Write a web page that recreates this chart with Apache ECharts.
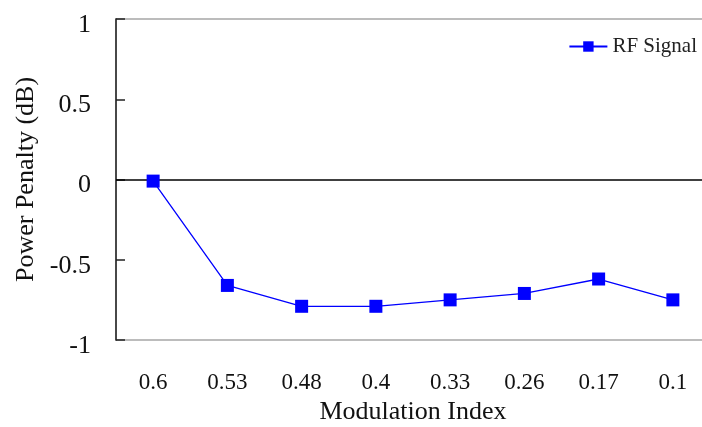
<!DOCTYPE html>
<html>
<head>
<meta charset="utf-8">
<script src="https://cdn.jsdelivr.net/npm/echarts@6/dist/echarts.min.js"></script>
<style>
  html, body { margin: 0; padding: 0; background: #fff; overflow: hidden; }
  #chart { width: 702px; height: 427px; }
</style>
</head>
<body>
<div id="chart"></div>
<script>
// Modulation index values along the x axis
const categories = ['0.6', '0.53', '0.48', '0.4', '0.33', '0.26', '0.17', '0.1'];
// Measured power penalty of the RF signal (dB)
const rfSignal = [-0.01, -0.66, -0.79, -0.79, -0.75, -0.71, -0.62, -0.75];
const seriesName = 'RF Signal';
const xTitle = 'Modulation Index';
const yTitle = 'Power Penalty (dB)';

const font = '"Liberation Serif", "DejaVu Serif", serif';

const chart = echarts.init(document.getElementById('chart'), null, { renderer: 'canvas' });
chart.setOption({
  animation: false,
  backgroundColor: '#fff',
  grid: {
    // plot frame runs a little past the right edge of the canvas
    left: 116, top: 19, width: 594, height: 321,
    outerBoundsMode: 'none',
    containLabel: false,
    show: true, borderColor: '#a6a6a6', borderWidth: 1.5
  },
  legend: {
    right: 0, top: 31,
    itemWidth: 38, itemHeight: 13,
    itemGap: 4,
    textStyle: { fontFamily: font, fontSize: 21, color: '#222' },
    data: [seriesName]
  },
  xAxis: {
    type: 'category',
    data: categories,
    boundaryGap: true,
    axisLine: { show: false },
    axisTick: { show: false },
    axisLabel: { fontFamily: font, fontSize: 23, color: '#111', margin: 31 },
    name: xTitle,
    nameLocation: 'middle',
    nameGap: 53,
    nameTextStyle: { fontFamily: font, fontSize: 26, color: '#111' },
    splitLine: { show: false }
  },
  yAxis: {
    type: 'value',
    min: -1, max: 1, interval: 0.5,
    axisLine: { show: true, lineStyle: { color: '#222', width: 1.5 } },
    axisTick: { show: true, inside: true, length: 9, lineStyle: { color: '#222', width: 1.5 } },
    axisLabel: {
      fontFamily: font, fontSize: 26, color: '#111', margin: 25,
      verticalAlign: 'top', lineHeight: 12
    },
    splitLine: { show: false },
    name: yTitle,
    nameLocation: 'middle',
    nameGap: 76,
    nameTextStyle: { fontFamily: font, fontSize: 26, color: '#111' }
  },
  series: [{
    name: seriesName,
    type: 'line',
    data: rfSignal,
    symbol: 'rect',
    symbolSize: 13,
    color: '#0000ff',
    lineStyle: { color: '#0000ff', width: 1.3 },
    itemStyle: { color: '#0000ff' },
    markLine: {
      silent: true,
      symbol: 'none',
      label: { show: false },
      lineStyle: { color: '#000', width: 1.5, type: 'solid' },
      data: [{ yAxis: 0 }],
      z: 1
    }
  }]
});
</script>
</body>
</html>
